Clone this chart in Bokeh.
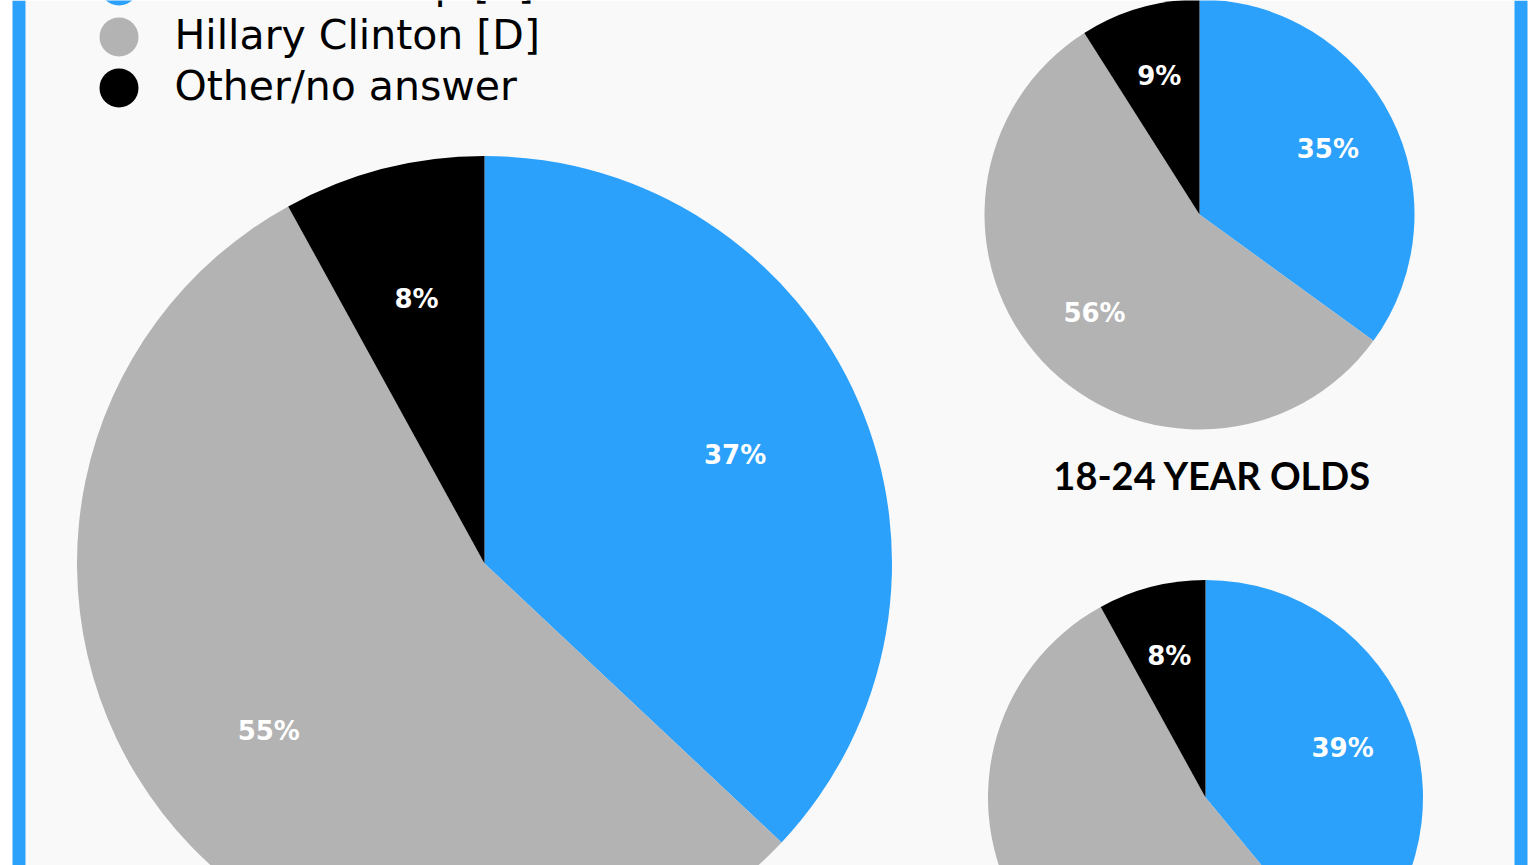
import math
from bokeh.plotting import figure
from bokeh.models import Range1d, ColumnDataSource
from bokeh.core.properties import value
from bokeh.embed import file_html
from bokeh.resources import INLINE

# ---- data ----
candidates = ["Donald Trump [R]", "Hillary Clinton [D]", "Other/no answer"]
colors = ["#2ba1fb", "#b3b3b3", "#000000"]
all_voters = [37, 55, 8]
age_18_24 = [35, 56, 9]
age_25_29 = [39, 53, 8]
subtitle_18_24 = "18-24 YEAR OLDS"

W, H = 1538, 865
BG = "#f9f9f9"

p = figure(width=W, height=H, output_backend="svg", toolbar_location=None,
           x_range=Range1d(0, W), y_range=Range1d(-H, 0),
           min_border=0, border_fill_color="white", background_fill_color="white",
           outline_line_color=None)
p.axis.visible = False
p.grid.visible = False

# frame: blue side bars and light panel
p.quad(left=[25], right=[1514], top=[0], bottom=[-H], color=BG, line_color=None)
p.quad(left=[12, 1514], right=[25, 1527], top=[0, 0], bottom=[-H, -H],
       color="#2ba1fb", line_color=None)


def pie(values, cx, cy, r):
    total = float(sum(values))
    starts, ends, lx, ly, labels = [], [], [], [], []
    cum = 0.0
    for v in values:
        a0 = cum / total
        cum += v
        a1 = cum / total
        starts.append(math.pi / 2 - 2 * math.pi * a1)
        ends.append(math.pi / 2 - 2 * math.pi * a0)
        mid = math.pi / 2 - 2 * math.pi * (a0 + a1) / 2
        lx.append(cx + 0.67 * r * math.cos(mid))
        ly.append(cy + 0.67 * r * math.sin(mid))
        labels.append(f"{v}%")
    src = ColumnDataSource(dict(start=starts, end=ends, color=colors,
                                lx=lx, ly=ly, label=labels))
    p.wedge(x=cx, y=cy, radius=r, start_angle="start", end_angle="end",
            fill_color="color", line_color=None, source=src)
    p.text(x="lx", y="ly", text="label", source=src, text_color="white",
           text_font=value("DejaVu Sans"), text_font_style="bold", text_font_size="26px",
           text_align="center", text_baseline="middle")


pie(all_voters, 484, -563, 407.5)
pie(age_18_24, 1199, -214, 215)
pie(age_25_29, 1205, -797, 217.5)

p.text(x=[1212], y=[-474], text=[subtitle_18_24], text_color="black",
       text_font=value("Lato"), text_font_style="bold", text_font_size="38px",
       text_align="center", text_baseline="middle")

# legend
leg_y = [14.5, -36.5, -87.5]
p.scatter(x=[118.5] * 3, y=leg_y, size=39, marker="circle", color=colors, line_color=None)
p.text(x=[174] * 3, y=[y + 2 for y in leg_y], text=candidates, text_color="black",
       text_font=value("DejaVu Sans"), text_font_size="41px",
       text_align="left", text_baseline="alphabetic")

open("out.html", "w").write(file_html(p, INLINE))
